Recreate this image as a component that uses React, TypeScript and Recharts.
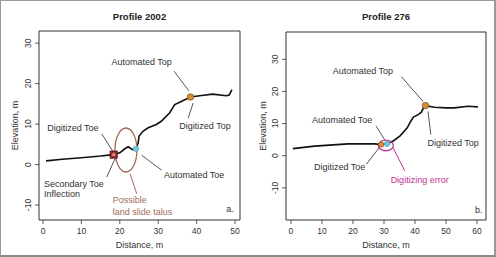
import React from 'react';
import { LineChart, Line, XAxis, YAxis, ReferenceDot, ReferenceLine, ReferenceArea } from 'recharts';

const FONT = '"Liberation Sans", Arial, Helvetica, sans-serif';

// Profile 2002
const dist2002 = [0.8, 5, 10, 15, 18.4, 20, 21.3, 22.2, 23.3, 24.2, 24.8, 25, 26, 27.4, 29.5, 30.8, 33, 34.3, 36, 38.4, 40.8, 44.2, 47.7, 48.5, 49.2];
const elev2002 = [0.9, 1.3, 1.7, 2.1, 2.45, 2.9, 3.9, 4.4, 3.7, 3.9, 5.4, 7, 8.2, 9.1, 9.9, 10.7, 12.8, 14.8, 15.6, 16.7, 17, 17.4, 17, 17.2, 18.5];

// Profile 276
const dist276 = [0.6, 7.6, 18.4, 27, 29.1, 31, 33, 35.2, 37.5, 38.5, 39.5, 41, 42, 42.8, 43.4, 46.3, 50, 52.7, 57.1, 60.3];
const elev276 = [2.2, 3.0, 3.7, 3.7, 3.5, 3.7, 4.6, 6.2, 8.7, 10.5, 12.0, 12.8, 13.5, 15.0, 15.6, 15.1, 14.9, 14.9, 15.4, 15.2];

const xTicks2002 = [0, 10, 20, 30, 40, 50];
const xTicks276 = [0, 10, 20, 30, 40, 50, 60];
const yTicks = [-10, 0, 10, 20, 30];

const BROWN = '#9d6a5c';
const MAGENTA = '#c0318f';
const GREY = '#555555';
const TEXT = '#333333';

type Note = { text: string; x: number; y: number; color?: string; anchor?: 'start' | 'middle' | 'end' };
type Leader = { x1: number; y1: number; x2: number; y2: number; color?: string };
type Marker = { x: number; y: number; kind: 'orange' | 'cyan' | 'square' | 'orangeSmall' };
type Ring = { x: number; y: number; rx: number; ry: number; color: string };

const notes2002: Note[] = [
  { text: 'Automated Top', x: 25.7, y: 25.3 },
  { text: 'Digitized Top', x: 42.2, y: 9.6 },
  { text: 'Digitized Toe', x: 7.8, y: 9.0 },
  { text: 'Secondary Toe', x: 0.26, y: -4.7, anchor: 'start' },
  { text: 'Inflection', x: 0.26, y: -7.2, anchor: 'start' },
  { text: 'Possible', x: 18.15, y: -8.8, anchor: 'start', color: BROWN },
  { text: 'land slide talus', x: 18.15, y: -11.7, anchor: 'start', color: BROWN },
  { text: 'Automated Toe', x: 31.5, y: -2.5, anchor: 'start' },
  { text: 'a.', x: 48.7, y: -10.9 },
];
const leaders2002: Leader[] = [
  { x1: 34.1, y1: 23.1, x2: 38.0, y2: 18.2 },
  { x1: 39.1, y1: 15.2, x2: 37.8, y2: 11.5 },
  { x1: 15.3, y1: 7.6, x2: 18.3, y2: 3.1 },
  { x1: 18.75, y1: 1.43, x2: 16.6, y2: -3.1 },
  { x1: 22.7, y1: -2.3, x2: 24.4, y2: -7.2, color: BROWN },
  { x1: 25.7, y1: 2.3, x2: 30.9, y2: -1.4 },
];
const rings2002: Ring[] = [{ x: 21.6, y: 3.6, rx: 11, ry: 22, color: BROWN }];
const markers2002: Marker[] = [
  { x: 38.4, y: 16.7, kind: 'orange' },
  { x: 18.4, y: 2.45, kind: 'square' },
  { x: 24.2, y: 3.9, kind: 'cyan' },
];

const notes276: Note[] = [
  { text: 'Automated Top', x: 23.2, y: 26.5 },
  { text: 'Digitized Top', x: 52.3, y: 4.0 },
  { text: 'Automated Toe', x: 16.5, y: 11.3 },
  { text: 'Digitized Toe', x: 15.7, y: -3.4 },
  { text: 'Digitizing error', x: 41.5, y: -7.6, color: MAGENTA },
  { text: 'b.', x: 60.6, y: -16.8 },
];
const leaders276: Leader[] = [
  { x1: 35.6, y1: 24.6, x2: 42.6, y2: 16.9 },
  { x1: 44.2, y1: 13.8, x2: 45.1, y2: 6.6 },
  { x1: 27.5, y1: 9.2, x2: 30.2, y2: 5.0 },
  { x1: 24.3, y1: -2.7, x2: 28.6, y2: 2.7 },
  { x1: 32.9, y1: 2.5, x2: 36.7, y2: -4.7, color: MAGENTA },
];
const rings276: Ring[] = [{ x: 30.6, y: 3.2, rx: 7.5, ry: 5.3, color: MAGENTA }];
const markers276: Marker[] = [
  { x: 29.1, y: 3.5, kind: 'orangeSmall' },
  { x: 31, y: 3.7, kind: 'cyan' },
  { x: 43.4, y: 15.6, kind: 'orange' },
];

const YTick = (props: any) => {
  const { x, y, payload } = props;
  return (
    <text
      x={x}
      y={y}
      transform={`rotate(-90, ${x}, ${y})`}
      textAnchor="middle"
      fontSize={8.5}
      fontFamily={FONT}
      fill={TEXT}
    >
      {payload.value}
    </text>
  );
};

const renderMarker = (m: Marker) => (p: any) => {
  const { cx, cy } = p;
  if (m.kind === 'square') {
    return (
      <g>
        <rect x={cx - 3.5} y={cy - 3.5} width={7} height={7} fill="#a23030" stroke="#5a1212" strokeWidth={1} />
        <rect x={cx - 1.2} y={cy - 1.2} width={2.4} height={2.4} fill="#e8b0a0" />
      </g>
    );
  }
  if (m.kind === 'cyan') {
    return <circle cx={cx} cy={cy} r={2.8} fill="#6fcbdc" stroke="#4aa8bb" strokeWidth={0.6} />;
  }
  if (m.kind === 'orangeSmall') {
    return <circle cx={cx} cy={cy} r={2.6} fill="#e6912e" stroke="#8a5010" strokeWidth={0.8} />;
  }
  return <circle cx={cx} cy={cy} r={3.2} fill="#d8902e" stroke="#7c5418" strokeWidth={0.8} />;
};

type PanelProps = {
  dist: number[];
  elev: number[];
  xDomain: [number, number];
  yDomain: [number, number];
  xTicks: number[];
  notes: Note[];
  leaders: Leader[];
  rings: Ring[];
  markers: Marker[];
  marginRight: number;
  marginTop: number;
  yAxisWidth: number;
};

const Panel = (p: PanelProps) => {
  const data = p.dist.map((d, i) => ({ d, e: p.elev[i] }));
  return (
    <LineChart
      width={248}
      height={257}
      data={data}
      margin={{ top: p.marginTop, right: p.marginRight, left: 0, bottom: 0 }}
    >
      <XAxis
        dataKey="d"
        type="number"
        domain={p.xDomain}
        allowDataOverflow
        ticks={p.xTicks}
        axisLine={false}
        tickLine={{ stroke: TEXT, strokeWidth: 0.8 }}
        tickSize={4}
        tickMargin={4}
        height={37}
        tick={{ fontSize: 8.5, fontFamily: FONT, fill: TEXT }}
        interval={0}
        label={{
          content: (lp: any) => {
            const vb = lp.viewBox;
            return (
              <text
                x={vb.x + vb.width / 2}
                y={248}
                textAnchor="middle"
                fontSize={9}
                fontFamily={FONT}
                fill={TEXT}
              >
                Distance, m
              </text>
            );
          },
        }}
      />
      <YAxis
        type="number"
        domain={p.yDomain}
        allowDataOverflow
        ticks={yTicks}
        axisLine={false}
        tickLine={{ stroke: TEXT, strokeWidth: 0.8 }}
        tickSize={4}
        tickMargin={4}
        width={p.yAxisWidth}
        tick={<YTick />}
        interval={0}
        label={{
          content: (lp: any) => {
            const vb = lp.viewBox;
            const cx = 18;
            const cy = vb.y + vb.height / 2;
            return (
              <text
                x={cx}
                y={cy}
                transform={`rotate(-90, ${cx}, ${cy})`}
                textAnchor="middle"
                fontSize={9}
                fontFamily={FONT}
                fill={TEXT}
              >
                Elevation, m
              </text>
            );
          },
        }}
      />
      <ReferenceArea
        x1={p.xDomain[0]}
        x2={p.xDomain[1]}
        y1={p.yDomain[0]}
        y2={p.yDomain[1]}
        fill="none"
        fillOpacity={0}
        stroke="#333"
        strokeWidth={1}
        ifOverflow="visible"
      />
      {p.rings.map((r, i) => (
        <ReferenceDot
          key={`ring${i}`}
          x={r.x}
          y={r.y}
          r={1}
          shape={(sp: any) => (
            <ellipse cx={sp.cx} cy={sp.cy} rx={r.rx} ry={r.ry} fill="none" stroke={r.color} strokeWidth={1.3} />
          )}
        />
      ))}
      {p.leaders.map((l, i) => (
        <ReferenceLine
          key={`lead${i}`}
          segment={[
            { x: l.x1, y: l.y1 },
            { x: l.x2, y: l.y2 },
          ]}
          stroke={l.color || GREY}
          strokeWidth={1}
        />
      ))}
      <Line
        dataKey="e"
        type="linear"
        stroke="#111"
        strokeWidth={1.6}
        dot={false}
        isAnimationActive={false}
      />
      {p.markers.map((m, i) => (
        <ReferenceDot key={`mk${i}`} x={m.x} y={m.y} r={3} shape={renderMarker(m)} />
      ))}
      {p.notes.map((n, i) => (
        <ReferenceDot
          key={`note${i}`}
          x={n.x}
          y={n.y}
          r={1}
          shape={(sp: any) => (
            <text
              x={sp.cx}
              y={sp.cy}
              dy="0.35em"
              textAnchor={n.anchor || 'middle'}
              fontSize={9}
              fontFamily={FONT}
              fill={n.color || TEXT}
            >
              {n.text}
            </text>
          )}
        />
      ))}
    </LineChart>
  );
};

const titleStyle: React.CSSProperties = {
  position: 'absolute',
  top: 11,
  fontFamily: FONT,
  fontWeight: 'bold',
  fontSize: 9.5,
  color: '#222',
  textAlign: 'center',
  lineHeight: '12px',
};

export default function App() {
  return (
    <div
      style={{
        position: 'absolute',
        left: 0,
        top: 0,
        width: 496,
        height: 257,
        background: '#fff',
        overflow: 'hidden',
      }}
    >
      <div style={{ position: 'absolute', left: 0, top: 0 }}>
        <Panel
          dist={dist2002}
          elev={elev2002}
          xDomain={[-1.04, 51.3]}
          yDomain={[-13.7, 33]}
          xTicks={xTicks2002}
          notes={notes2002}
          leaders={leaders2002}
          rings={rings2002}
          markers={markers2002}
          marginRight={8}
          marginTop={31}
          yAxisWidth={39}
        />
      </div>
      <div style={{ position: 'absolute', left: 248, top: 0 }}>
        <Panel
          dist={dist276}
          elev={elev276}
          xDomain={[-1.6, 62.9]}
          yDomain={[-20, 38.5]}
          xTicks={xTicks276}
          notes={notes276}
          leaders={leaders276}
          rings={rings276}
          markers={markers276}
          marginRight={10}
          marginTop={32}
          yAxisWidth={38}
        />
      </div>
      <div style={{ ...titleStyle, left: 39, width: 201 }}>Profile 2002</div>
      <div style={{ ...titleStyle, left: 286, width: 200 }}>Profile 276</div>
      <div
        style={{
          position: 'absolute',
          left: 0,
          top: 0,
          width: 496,
          height: 257,
          boxSizing: 'border-box',
          borderTop: '1px solid #9a9a9a',
          borderLeft: '1px solid #9a9a9a',
          borderRight: '2px solid #9a9a9a',
          borderBottom: '2px solid #8a8a8a',
          pointerEvents: 'none',
        }}
      />
    </div>
  );
}
